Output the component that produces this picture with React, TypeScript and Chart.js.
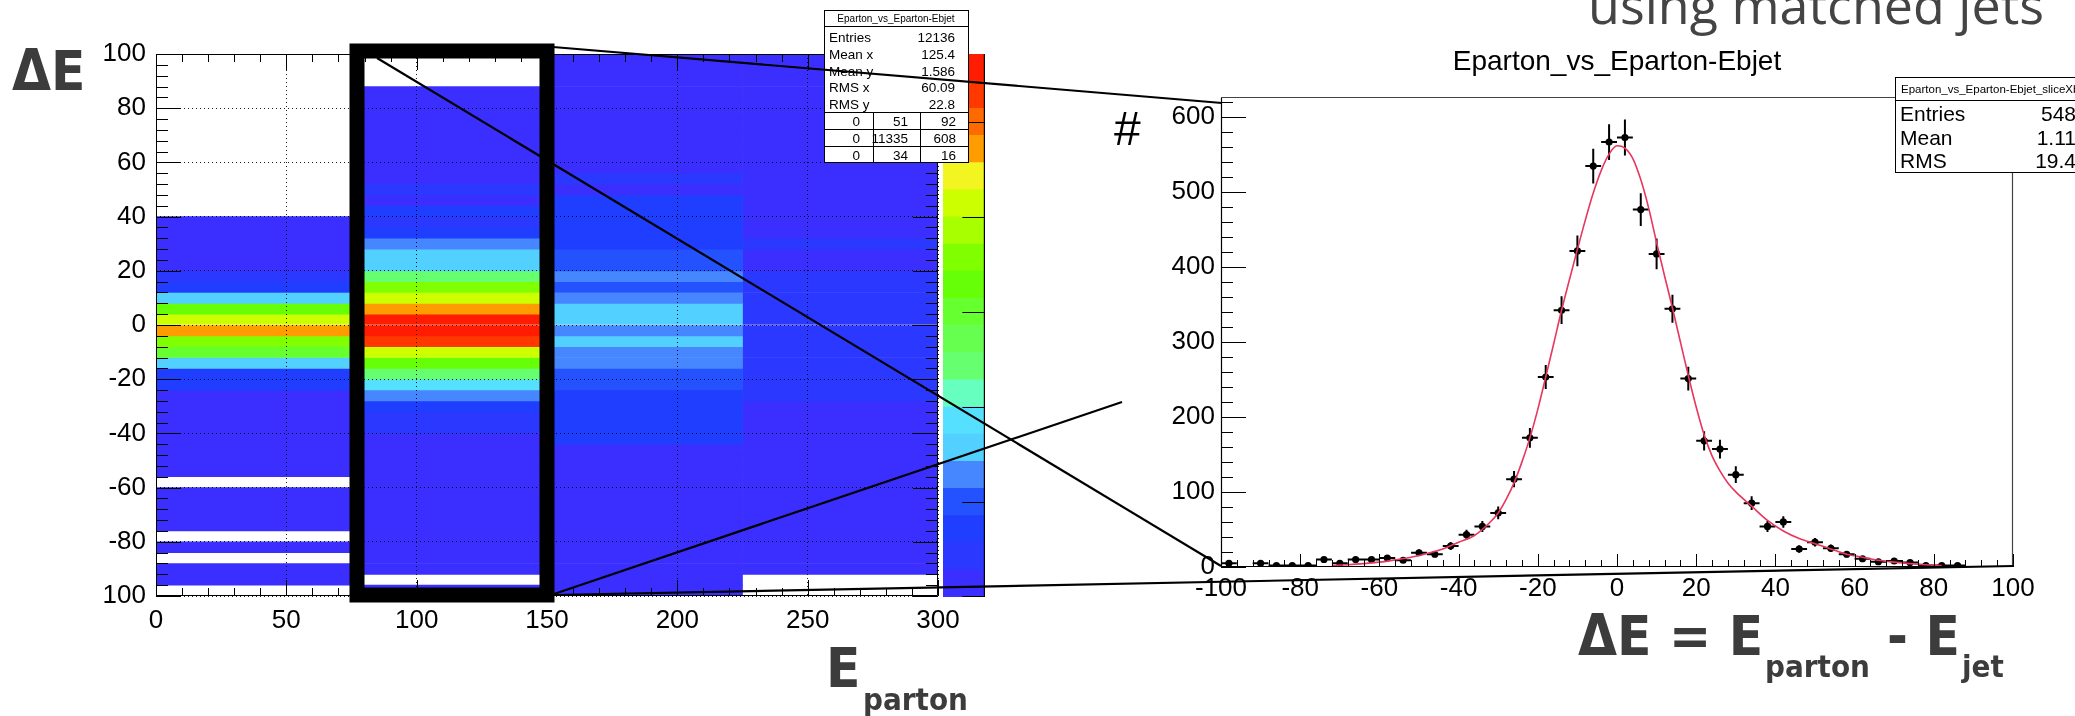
import React, { useEffect, useRef } from 'react';
import { Chart, registerables } from 'chart.js';

Chart.register(...registerables);

// ---------------- data ----------------
const xBinLabels = ['0-75', '75-150', '150-225', '225-300'];
const yBinEdges = [-100, -96, -92, -88, -84, -80, -76, -72, -68, -64, -60, -56, -52, -48, -44, -40, -36, -32, -28, -24, -20, -16, -12, -8, -4, 0, 4, 8, 12, 16, 20, 24, 28, 32, 36, 40, 44, 48, 52, 56, 60, 64, 68, 72, 76, 80, 84, 88, 92, 96, 100];

// counts per y bin (from -100 upward) for each E_parton column
const col1Counts = [0, 3, 2, 0, 2, 0, 3, 4, 3, 5, 0, 5, 7, 9, 11, 14, 17, 21, 26, 68, 80, 165, 295, 365, 470, 425, 330, 170, 75, 50, 24, 18, 12, 8, 5, 0, 0, 0, 0, 0, 0, 0, 0, 0, 0, 0, 0, 0, 0, 0];
// column 75-150, also the slice shown on the right
const sliceCounts = [5, 0, 5, 2, 2, 2, 10, 5, 10, 10, 12, 9, 19, 17, 28, 43, 54, 72, 117, 172, 253, 342, 421, 534, 566, 572, 476, 417, 344, 251, 168, 157, 123, 85, 54, 60, 24, 33, 25, 17, 11, 7, 8, 6, 2, 2, 2, 0, 0, 0];
const col3Counts = [3, 4, 3, 5, 4, 6, 5, 7, 8, 9, 11, 14, 17, 22, 62, 66, 70, 74, 78, 95, 99, 125, 132, 160, 140, 165, 162, 130, 100, 122, 96, 90, 80, 74, 69, 64, 60, 26, 33, 22, 19, 16, 13, 11, 9, 7, 5, 4, 3, 2];
const col4Counts = [0, 0, 3, 2, 4, 3, 5, 4, 6, 5, 7, 8, 9, 10, 12, 14, 16, 20, 32, 35, 38, 42, 45, 48, 52, 50, 46, 42, 38, 34, 27, 25, 30, 22, 20, 18, 16, 14, 12, 10, 9, 8, 7, 6, 5, 4, 3, 3, 2, 2];

const zMax = 572;
const paletteColors = ['#3a2fff', '#2b38ff', '#1f3eff', '#2552ff', '#4687ff', '#52d0ff', '#56e0ff', '#66ffc0', '#66ff70', '#66ff50', '#66ff30', '#66ff08', '#80ff00', '#a8ff00', '#ccff00', '#f2f520', '#ff9c00', '#ff6a00', '#ff3800', '#ff1c00'];
const paletteTicks = [0, 100, 200, 300, 400, 500];

const heatXTicks = [0, 50, 100, 150, 200, 250, 300];
const heatXTickLabels = ['0', '50', '100', '150', '200', '250', '300'];
const heatYTicks = [-100, -80, -60, -40, -20, 0, 20, 40, 60, 80, 100];
const heatYTickLabels = ['100', '-80', '-60', '-40', '-20', '0', '20', '40', '60', '80', '100'];

const sliceXTicks = [-100, -80, -60, -40, -20, 0, 20, 40, 60, 80, 100];
const sliceXTickLabels = ['-100', '-80', '-60', '-40', '-20', '0', '20', '40', '60', '80', '100'];
const sliceYTicks = [0, 100, 200, 300, 400, 500, 600];
const sliceYTickLabels = ['0', '100', '200', '300', '400', '500', '600'];
const sliceYMax = 626;

const fitX = [-72, -68, -64, -60, -56, -52, -48, -44, -40, -36, -32, -30, -28, -26, -24, -22, -20, -18, -16, -14, -12, -10, -8, -6, -4, -2, 0, 2, 4, 6, 8, 10, 12, 14, 16, 18, 20, 22, 24, 26, 28, 30, 34, 38, 42, 46, 50, 54, 58, 62, 66, 70, 74, 78, 82];
const fitY = [2, 3, 4.5, 6.5, 9.5, 13, 18, 24, 33, 42, 60, 72, 90, 112, 140, 172, 210, 253, 297, 342, 383, 423, 462, 498, 528, 550, 561, 558, 544, 516, 478, 432, 388, 345, 300, 255, 213, 176, 148, 128, 112, 100, 81, 62, 48, 38, 31, 24, 17, 13, 9, 6.5, 4.5, 3, 2];

const statsLeftLabels = ['Entries', 'Mean x', 'Mean y', 'RMS x', 'RMS y'];
const statsLeftValues = ['12136', '125.4', '1.586', '60.09', '22.8'];
const statsLeftTable = [['0', '51', '92'], ['0', '11335', '608'], ['0', '34', '16']];
const statsRightLabels = ['Entries', 'Mean', 'RMS'];
const statsRightValues = ['548', '1.11', '19.4'];

// ---------------- helpers ----------------
const FONT = "'Liberation Sans', Arial, Helvetica, sans-serif";
const BIG = "'DejaVu Sans Condensed', 'DejaVu Sans', sans-serif";

function colorFor(z: number) {
  const n = paletteColors.length;
  return paletteColors[Math.min(n - 1, Math.floor((z * n) / zMax))];
}

const rootAxesPlugin = {
  id: 'rootAxes',
  afterDraw(chart: any) {
    const o = chart.options.plugins && chart.options.plugins.rootAxes;
    if (!o) return;
    const ctx = chart.ctx;
    const a = chart.chartArea;
    ctx.save();
    ctx.strokeStyle = '#000';
    ctx.lineWidth = 1;
    for (const t of o.ticks) {
      const s = chart.scales[t.scale];
      const n = Math.round((s.max - s.min) / t.minor);
      ctx.beginPath();
      for (let i = 0; i <= n; i++) {
        const v = s.min + i * t.minor;
        const q = v / t.major;
        const len = Math.abs(q - Math.round(q)) < 1e-6 ? t.majorLen : t.minorLen;
        const p = Math.round(s.getPixelForValue(v)) + 0.5;
        for (const side of t.sides) {
          if (side === 'left') { ctx.moveTo(a.left, p); ctx.lineTo(a.left + len, p); }
          if (side === 'right') { ctx.moveTo(a.right, p); ctx.lineTo(a.right - len, p); }
          if (side === 'bottom') { ctx.moveTo(p, a.bottom); ctx.lineTo(p, a.bottom - len); }
          if (side === 'top') { ctx.moveTo(p, a.top); ctx.lineTo(p, a.top + len); }
        }
      }
      ctx.stroke();
    }
    const L = Math.round(a.left) + 0.5, R = Math.round(a.right) - 0.5;
    const T = Math.round(a.top) + 0.5, B = Math.round(a.bottom) - 0.5;
    for (const f of o.frame) {
      ctx.beginPath();
      ctx.strokeStyle = f.color;
      ctx.lineWidth = f.width;
      if (f.side === 'left') { ctx.moveTo(L, T); ctx.lineTo(L, B); }
      if (f.side === 'right') { ctx.moveTo(R, T); ctx.lineTo(R, B); }
      if (f.side === 'top') { ctx.moveTo(L, T); ctx.lineTo(R, T); }
      if (f.side === 'bottom') { ctx.moveTo(L, B); ctx.lineTo(R, B); }
      ctx.stroke();
    }
    ctx.restore();
  },
};

const paletteAxisPlugin = {
  id: 'paletteAxis',
  afterDraw(chart: any) {
    const ctx = chart.ctx;
    const a = chart.chartArea;
    const s = chart.scales.y;
    ctx.save();
    ctx.strokeStyle = '#000';
    ctx.lineWidth = 1.2;
    ctx.beginPath();
    const R = a.right - 0.6;
    ctx.moveTo(R, a.top);
    ctx.lineTo(R, a.bottom);
    for (const v of paletteTicks) {
      const p = Math.min(a.bottom - 0.5, Math.round(s.getPixelForValue(v)) + 0.5);
      ctx.moveTo(R, p);
      ctx.lineTo(R - 22, p);
    }
    ctx.stroke();
    ctx.restore();
  },
};

function heatConfig(): any {
  const columns = [col1Counts, sliceCounts, col3Counts, col4Counts];
  const datasets = columns.map((counts, ci) => ({
    type: 'bar',
    label: xBinLabels[ci],
    xAxisID: 'xc',
    yAxisID: 'y',
    data: counts
      .map((z, bi) => ({ x: xBinLabels[ci], y: [yBinEdges[bi], yBinEdges[bi + 1]], z }))
      .filter((d) => d.z > 0),
    backgroundColor: (c: any) => (c.raw ? colorFor(c.raw.z) : 'rgba(0,0,0,0)'),
    borderWidth: 0,
    grouped: false,
    categoryPercentage: 1,
    barPercentage: 1,
  }));
  const tickFont = { family: FONT, size: 26 };
  return {
    type: 'bar',
    data: { labels: xBinLabels, datasets },
    options: {
      animation: false,
      responsive: false,
      maintainAspectRatio: false,
      events: [],
      layout: { padding: { left: 0, top: 54, right: 62, bottom: 0 } },
      plugins: {
        legend: { display: false },
        tooltip: { enabled: false },
        rootAxes: {
          ticks: [
            { scale: 'y', major: 20, minor: 4, majorLen: 25, minorLen: 12, sides: ['left', 'right'] },
            { scale: 'x', major: 50, minor: 10, majorLen: 16, minorLen: 8, sides: ['bottom', 'top'] },
          ],
          frame: [
            { side: 'left', color: '#000', width: 1 },
            { side: 'right', color: '#000', width: 1 },
            { side: 'top', color: '#000', width: 1 },
            { side: 'bottom', color: '#000', width: 1 },
          ],
        },
      },
      scales: {
        xc: { type: 'category', labels: xBinLabels, display: false, offset: true },
        x: {
          type: 'linear',
          position: 'bottom',
          min: 0,
          max: 300,
          offset: false,
          afterFit: (s: any) => { s.height = 120; },
          afterBuildTicks: (s: any) => { s.ticks = heatXTicks.map((v) => ({ value: v })); },
          ticks: { font: tickFont, color: '#000', padding: 9, maxRotation: 0, autoSkip: false, callback: (_v: any, i: number) => heatXTickLabels[i] },
          grid: { display: true, drawTicks: false, offset: false, color: 'rgba(0,0,0,0.9)', lineWidth: 1, z: 1, borderDash: [1, 3] },
          border: { display: false, dash: [1, 3] },
        },
        y: {
          type: 'linear',
          min: -100,
          max: 100,
          afterFit: (s: any) => { s.width = 156; },
          afterBuildTicks: (s: any) => { s.ticks = heatYTicks.map((v) => ({ value: v })); },
          ticks: { font: tickFont, color: '#000', padding: 10, autoSkip: false, callback: (_v: any, i: number) => heatYTickLabels[i] },
          grid: { display: true, drawTicks: false, color: 'rgba(0,0,0,0.9)', lineWidth: 1, z: 1, borderDash: [1, 3] },
          border: { display: false, dash: [1, 3] },
        },
      },
    },
    plugins: [rootAxesPlugin],
  };
}

function paletteConfig(): any {
  return {
    type: 'bar',
    data: {
      labels: ['z'],
      datasets: paletteColors.map((c) => ({
        data: [zMax / paletteColors.length],
        backgroundColor: c,
        borderWidth: 0,
        categoryPercentage: 1,
        barPercentage: 1,
      })),
    },
    options: {
      animation: false,
      responsive: false,
      maintainAspectRatio: false,
      events: [],
      layout: { padding: 0 },
      plugins: { legend: { display: false }, tooltip: { enabled: false } },
      scales: {
        x: { display: false, stacked: true },
        y: { display: false, stacked: true, min: 0, max: zMax },
      },
    },
    plugins: [paletteAxisPlugin],
  };
}

function sliceConfig(): any {
  const centers = sliceCounts.map((_, i) => (yBinEdges[i] + yBinEdges[i + 1]) / 2);
  const points: any[] = [];
  const vErr: any[] = [];
  const hErr: any[] = [];
  sliceCounts.forEach((n, i) => {
    if (n <= 0) return;
    const x = centers[i];
    const e = Math.sqrt(n);
    points.push({ x, y: n });
    vErr.push({ x, y: n - e }, { x, y: n + e }, { x, y: null });
    hErr.push({ x: yBinEdges[i], y: n }, { x: yBinEdges[i + 1], y: n }, { x: yBinEdges[i + 1], y: null });
  });
  const tickFont = { family: FONT, size: 26 };
  return {
    type: 'scatter',
    data: {
      datasets: [
        {
          type: 'line',
          label: 'fit',
          data: fitX.map((x, i) => ({ x, y: fitY[i] })),
          borderColor: '#e8365d',
          borderWidth: 1.6,
          pointRadius: 0,
          fill: false,
          cubicInterpolationMode: 'monotone',
          order: 0,
        },
        {
          type: 'scatter',
          label: 'data',
          data: points,
          pointRadius: 3.6,
          pointBackgroundColor: '#000',
          pointBorderWidth: 0,
          order: 1,
        },
        {
          type: 'line',
          label: 'verr',
          data: vErr,
          borderColor: '#000',
          borderWidth: 2,
          pointRadius: 0,
          spanGaps: false,
          fill: false,
          order: 2,
        },
        {
          type: 'line',
          label: 'herr',
          data: hErr,
          borderColor: '#000',
          borderWidth: 2,
          pointRadius: 0,
          spanGaps: false,
          fill: false,
          order: 2,
        },
      ],
    },
    options: {
      animation: false,
      responsive: false,
      maintainAspectRatio: false,
      events: [],
      layout: { padding: { left: 0, top: 97, right: 62, bottom: 0 } },
      plugins: {
        legend: { display: false },
        tooltip: { enabled: false },
        rootAxes: {
          ticks: [
            { scale: 'y', major: 100, minor: 20, majorLen: 25, minorLen: 12, sides: ['left'] },
            { scale: 'x', major: 20, minor: 4, majorLen: 13, minorLen: 7, sides: ['bottom'] },
          ],
          frame: [
            { side: 'top', color: '#444', width: 1.2 },
            { side: 'right', color: '#444', width: 1.2 },
            { side: 'left', color: '#000', width: 1.2 },
            { side: 'bottom', color: '#000', width: 1.2 },
          ],
        },
      },
      scales: {
        x: {
          type: 'linear',
          min: -100,
          max: 100,
          afterFit: (s: any) => { s.height = 149; },
          afterBuildTicks: (s: any) => { s.ticks = sliceXTicks.map((v) => ({ value: v })); },
          ticks: { font: tickFont, color: '#000', padding: 6, maxRotation: 0, autoSkip: false, callback: (_v: any, i: number) => sliceXTickLabels[i] },
          grid: { display: false, drawTicks: false },
          border: { display: false },
        },
        y: {
          type: 'linear',
          min: 0,
          max: sliceYMax,
          afterFit: (s: any) => { s.width = 221; },
          afterBuildTicks: (s: any) => { s.ticks = sliceYTicks.map((v) => ({ value: v })); },
          ticks: { font: tickFont, color: '#000', padding: 6, autoSkip: false, callback: (_v: any, i: number) => sliceYTickLabels[i] },
          grid: { display: false, drawTicks: false },
          border: { display: false },
        },
      },
    },
    plugins: [rootAxesPlugin],
  };
}

export default function App() {
  const heatRef = useRef<HTMLCanvasElement>(null);
  const palRef = useRef<HTMLCanvasElement>(null);
  const sliceRef = useRef<HTMLCanvasElement>(null);

  useEffect(() => {
    const charts: Chart[] = [];
    if (heatRef.current) charts.push(new Chart(heatRef.current, heatConfig()));
    if (palRef.current) charts.push(new Chart(palRef.current, paletteConfig()));
    if (sliceRef.current) charts.push(new Chart(sliceRef.current, sliceConfig()));
    return () => charts.forEach((c) => c.destroy());
  }, []);

  const grayText = '#3c3c3c';
  return (
    <div style={{ position: 'fixed', left: 0, top: 0, width: 2075, height: 716, overflow: 'hidden', background: '#fff' }}>
      <canvas ref={heatRef} width={1000} height={716} style={{ position: 'absolute', left: 0, top: 0, width: 1000, height: 716 }} />
      <canvas ref={palRef} width={42} height={543} style={{ position: 'absolute', left: 943, top: 54, width: 42, height: 543 }} />
      <canvas ref={sliceRef} width={1075} height={716} style={{ position: 'absolute', left: 1000, top: 0, width: 1075, height: 716 }} />
      <svg width={2075} height={716} style={{ position: 'absolute', left: 0, top: 0 }}>
        {/* left statistics box */}
        <g fontFamily={FONT} fill="#000">
          <rect x={824.5} y={10.5} width={144} height={152} fill="#fff" stroke="#000" strokeWidth={1} />
          <line x1={824.5} y1={26.5} x2={968.5} y2={26.5} stroke="#000" />
          <text x={896} y={22} fontSize={10} textAnchor="middle">Eparton_vs_Eparton-Ebjet</text>
          {statsLeftLabels.map((l, i) => (
            <text key={'l' + i} x={829} y={42 + i * 16.8} fontSize={13.5}>{l}</text>
          ))}
          {statsLeftValues.map((v, i) => (
            <text key={'v' + i} x={955} y={42 + i * 16.8} fontSize={13.5} textAnchor="end">{v}</text>
          ))}
          <line x1={824.5} y1={112.5} x2={968.5} y2={112.5} stroke="#000" />
          <line x1={824.5} y1={129.5} x2={968.5} y2={129.5} stroke="#000" />
          <line x1={824.5} y1={146.5} x2={968.5} y2={146.5} stroke="#000" />
          <line x1={873.5} y1={112.5} x2={873.5} y2={162.5} stroke="#000" />
          <line x1={920.5} y1={112.5} x2={920.5} y2={162.5} stroke="#000" />
          {statsLeftTable.map((row, r) =>
            row.map((v, c) => (
              <text key={'t' + r + c} x={[860, 908, 956][c]} y={126 + r * 16.8} fontSize={13.5} textAnchor="end">{v}</text>
            ))
          )}
        </g>
        {/* right statistics box */}
        <g fontFamily={FONT} fill="#000">
          <rect x={1895.5} y={77.5} width={300} height={95} fill="#fff" stroke="#000" strokeWidth={1} />
          <line x1={1895.5} y1={100.5} x2={2100} y2={100.5} stroke="#000" />
          <text x={1901} y={93} fontSize={11.5}>Eparton_vs_Eparton-Ebjet_sliceXbi</text>
          {statsRightLabels.map((l, i) => (
            <text key={'rl' + i} x={1900} y={121 + i * 23.5} fontSize={21}>{l}</text>
          ))}
          {statsRightValues.map((v, i) => (
            <text key={'rv' + i} x={2076} y={121 + i * 23.5} fontSize={21} textAnchor="end">{v}</text>
          ))}
        </g>
        {/* right plot title and y label */}
        <text x={1617} y={70} fontFamily={FONT} fontSize={28} textAnchor="middle" fill="#000">Eparton_vs_Eparton-Ebjet</text>
        <text x={1114} y={145} fontFamily={FONT} fontSize={48} fill="#000">#</text>
        {/* zoom box and connecting lines */}
        <rect x={357} y={51} width={190} height={544} fill="none" stroke="#000" strokeWidth={15} />
        <g stroke="#000" strokeWidth={2.2}>
          <line x1={553} y1={47} x2={1222} y2={103} />
          <line x1={377} y1={58} x2={1221} y2={566} />
          <line x1={554} y1={594} x2={1122} y2={402} />
          <line x1={554} y1={595} x2={2013} y2={566} />
        </g>
        {/* slide labels */}
        <g fontFamily={BIG} fontWeight="bold" fill={grayText} style={{ fontStretch: 'condensed' }}>
          <text x={12} y={90} fontSize={56}>ΔE</text>
          <text x={826} y={687} fontSize={56}>E</text>
          <text x={863} y={710} fontSize={31}>parton</text>
          <text x={1578} y={655} fontSize={56}>ΔE = E</text>
          <text x={1765} y={677} fontSize={31}>parton</text>
          <text x={1887} y={655} fontSize={56}>- E</text>
          <text x={1962} y={677} fontSize={31}>jet</text>
        </g>
        <text x={1588} y={24} fontFamily="'Open Sans', 'DejaVu Sans', sans-serif" fontSize={52} fill="#444">using matched jets</text>
      </svg>
    </div>
  );
}
